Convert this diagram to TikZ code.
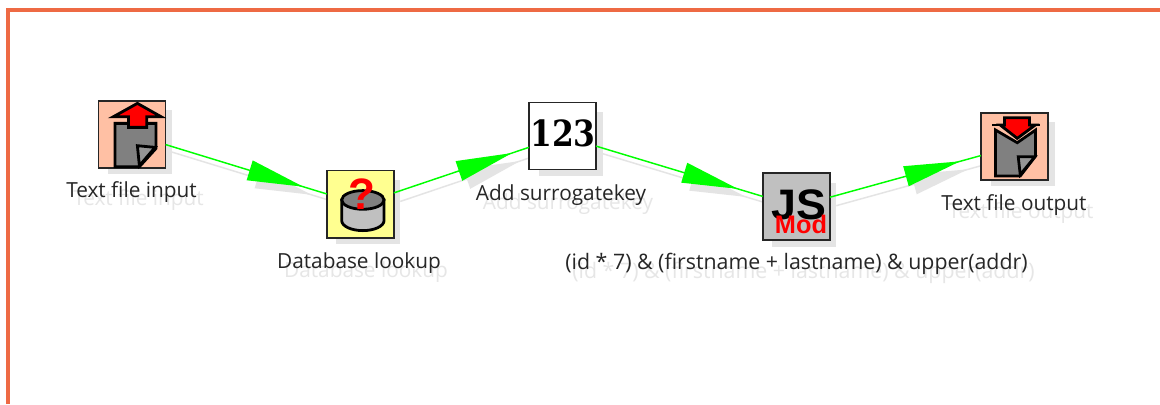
\documentclass[tikz,border=0pt]{standalone}
\usepackage{fontspec}
\setmainfont{Open Sans}
\newfontfamily\iconserif{DejaVu Serif}
\newfontfamily\iconsans{Liberation Sans}
\usetikzlibrary{decorations.markings}
\definecolor{flowgreen}{HTML}{00FF00}
\definecolor{dropgrey}{HTML}{E4E4E4}
\definecolor{droptext}{HTML}{E6E6E6}
\definecolor{frameorange}{HTML}{EE6A44}
\definecolor{salmon}{HTML}{FFC0A4}
\definecolor{paleyellow}{HTML}{FFFF90}
\definecolor{midgrey}{HTML}{808080}
\definecolor{foldgrey}{HTML}{959595}
\definecolor{lightgrey}{HTML}{C0C0C0}
\definecolor{iconred}{HTML}{FF0000}
\tikzset{
  x=0.75pt,y=-0.75pt,
  stepbox/.style={draw=black!85,line width=1.2pt,minimum width=50.4pt,minimum height=50.4pt,inner sep=0pt,outer sep=0pt},
  boxdrop/.style={fill=dropgrey,minimum width=48pt,minimum height=48pt,inner sep=0pt,outer sep=0pt},
  lbl/.style={font=\fontsize{15.6pt}{18pt}\selectfont,anchor=base,inner sep=0pt,text=black!85},
  lbldrop/.style={lbl,text=droptext},
  flow/.style={draw=flowgreen,line width=1.1pt},
  flowdrop/.style={draw=dropgrey,line width=1.1pt},
  flowhead/.style={postaction={decorate},decoration={markings,mark=at position 0.75 with {\fill[#1] (0pt,0pt)--(-42pt,7.8pt)--(-42pt,-7.8pt)--cycle;}}},
  icon/.style={draw=black,line width=2.1pt,line join=miter},
}
\begin{document}
\begin{tikzpicture}
\useasboundingbox (0,0) rectangle (1160,404);
\fill[white] (0,0) rectangle (1160,404);
\fill[frameorange] (6,8) rectangle (1160,12);
\fill[frameorange] (6,8) rectangle (10,404);

% shadows of the boxes
\node[boxdrop] (sa) at (140,142.3) {};
\node[boxdrop] (sb) at (368.3,212.2) {};
\node[boxdrop] (sc) at (570.5,144) {};
\node[boxdrop] (sd) at (804.3,214.5) {};
\node[boxdrop] (se) at (1022.5,154.3) {};

% shadows of the connectors
\draw[flowdrop] (sa) -- (sb);
\draw[flowdrop] (sb) -- (sc);
\draw[flowdrop] (sc) -- (sd);
\draw[flowdrop] (sd) -- (se);
\path[flowhead=dropgrey] (sa.center) -- (sb.center);
\path[flowhead=dropgrey] (sb.center) -- (sc.center);
\path[flowhead=dropgrey] (sc.center) -- (sd.center);
\path[flowhead=dropgrey] (sd.center) -- (se.center);

% shadows of the labels
\node[lbldrop] (ta) at (138.5,205.5) {Text file input};
\node[lbldrop] (tb) at (366,277) {Database lookup};
\node[lbldrop] (tc) at (568,209) {Add surrogatekey};
\node[lbldrop,font=\fontsize{16pt}{18pt}\selectfont] (td) at (803.5,278) {(id * 7) \& (firstname + lastname) \& upper(addr)};
\node[lbldrop] (te) at (1021,218.5) {Text file output};

% boxes
\node[stepbox,fill=salmon] (a) at (132,134.3) {};
\node[stepbox,fill=paleyellow] (b) at (360.3,204.2) {};
\node[stepbox,fill=white] (c) at (562.5,136) {};
\node[stepbox,fill=lightgrey] (d) at (796.3,206.5) {};
\node[stepbox,fill=salmon] (e) at (1014.5,146.3) {};

% connectors
\draw[flow] (a) -- (b);
\draw[flow] (b) -- (c);
\draw[flow] (c) -- (d);
\draw[flow] (d) -- (e);
\path[flowhead=flowgreen] (a.center) -- (b.center);
\path[flowhead=flowgreen] (b.center) -- (c.center);
\path[flowhead=flowgreen] (c.center) -- (d.center);
\path[flowhead=flowgreen] (d.center) -- (e.center);

% text file input icon
\begin{scope}[shift={(a.north west)},x=0.25pt,y=-0.25pt]
  \draw[icon,fill=midgrey] (50,68) -- (173,68) -- (173,143) -- (123,198) -- (50,198) -- cycle;
  \draw[icon,fill=foldgrey] (117,135) -- (170,140) -- (123,195) -- cycle;
  \draw[icon,fill=iconred] (117,8) -- (188,48) -- (145,48) -- (145,80) -- (90,80) -- (90,48) -- (45,48) -- cycle;
\end{scope}

% database icon
\begin{scope}[shift={(b.north west)},x=0.25pt,y=-0.25pt]
  \draw[icon,fill=lightgrey] (45,88) -- (45,150) arc[start angle=180,end angle=0,x radius=63.5,y radius=30] -- (172,88) -- cycle;
  \draw[icon,fill=midgrey] (108.5,88) ellipse[x radius=63.5,y radius=28];
\end{scope}
\node[font=\iconsans\bfseries\fontsize{33pt}{35pt}\selectfont,text=iconred,inner sep=0pt] (q) at (362,194) {?};

% surrogate key icon
\node[font=\iconserif\bfseries\fontsize{23.5pt}{26pt}\selectfont,inner sep=0pt] (n) at (563,133) {\scalebox{1}[1.15]{123}};

% JavaScript icon
\node[font=\iconsans\bfseries\fontsize{32pt}{34pt}\selectfont,inner sep=0pt] (js) at (799,205) {\scalebox{1.05}[1]{JS}};
\node[font=\iconsans\bfseries\fontsize{19pt}{22pt}\selectfont,text=iconred,inner sep=0pt] (m) at (801,224) {Mod};

% text file output icon
\begin{scope}[shift={(e.north west)},x=0.25pt,y=-0.25pt]
  \draw[icon,fill=midgrey] (44,52) -- (109,90) -- (164,52) -- (164,130) -- (118,190) -- (44,190) -- cycle;
  \draw[icon,fill=foldgrey] (112,132) -- (162,132) -- (118,186) -- cycle;
  \draw[icon] (34,37) -- (178,37);
  \draw[icon,fill=iconred] (71,15) -- (146,15) -- (146,37) -- (163,37) -- (109,77) -- (58,37) -- (71,37) -- cycle;
\end{scope}

% labels
\node[lbl] (la) at (131.5,197) {Text file input};
\node[lbl] (lb) at (359,268) {Database lookup};
\node[lbl] (lc) at (561,200) {Add surrogatekey};
\node[lbl,font=\fontsize{16pt}{18pt}\selectfont] (ld) at (796.5,269) {(id * 7) \& (firstname + lastname) \& upper(addr)};
\node[lbl] (le) at (1014,210) {Text file output};
\end{tikzpicture}
\end{document}
